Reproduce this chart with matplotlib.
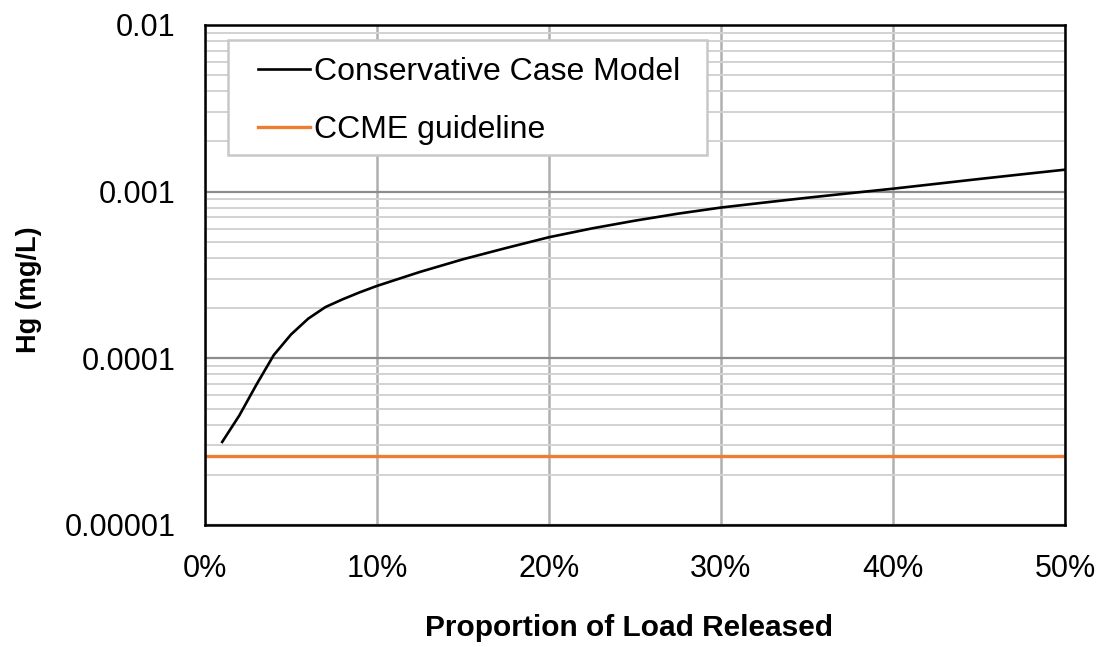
import matplotlib
matplotlib.use("Agg")
import matplotlib.pyplot as plt
from matplotlib.ticker import FixedLocator, LogLocator, NullFormatter
from matplotlib.patches import Rectangle
import numpy as np

plt.rcParams['font.family'] = ['Liberation Sans', 'DejaVu Sans']

# Data
proportion = [0.01, 0.02, 0.03, 0.04, 0.05, 0.06, 0.07, 0.08, 0.09, 0.10,
              0.125, 0.15, 0.175, 0.20, 0.225, 0.25, 0.275, 0.30, 0.325, 0.35,
              0.375, 0.40, 0.425, 0.45, 0.475, 0.50]
hg_model = [3.15e-5, 4.55e-5, 6.98e-5, 1.047e-4, 1.39e-4, 1.73e-4, 2.03e-4, 2.26e-4,
            2.49e-4, 2.72e-4, 3.30e-4, 3.93e-4, 4.59e-4, 5.33e-4, 6.02e-4, 6.70e-4,
            7.38e-4, 8.03e-4, 8.60e-4, 9.19e-4, 9.79e-4, 1.042e-3, 1.114e-3,
            1.191e-3, 1.271e-3, 1.355e-3]
ccme_x = [0.0, 0.5]
ccme_value = [2.6e-5, 2.6e-5]

x_ticks = [0.0, 0.1, 0.2, 0.3, 0.4, 0.5]
x_ticklabels = ['0%', '10%', '20%', '30%', '40%', '50%']
y_ticks = [1e-5, 1e-4, 1e-3, 1e-2]
y_ticklabels = ['0.00001', '0.0001', '0.001', '0.01']

fig = plt.figure(figsize=(11, 6.47), dpi=100)
ax = fig.add_axes([205/1100, 1 - 525/647, 860/1100, 500/647])

ax.set_yscale('log')
ax.set_xlim(0, 0.5)
ax.set_ylim(1e-5, 1e-2)

# grid
ax.yaxis.set_minor_locator(LogLocator(base=10, subs=np.arange(2, 10)))
ax.yaxis.set_minor_formatter(NullFormatter())
ax.grid(which='minor', axis='y', color='#d2d2d2', linewidth=1.4, zorder=0)
ax.grid(which='major', axis='y', color='#8c8c8c', linewidth=1.6, zorder=0)
ax.grid(which='major', axis='x', color='#b0b0b0', linewidth=1.8, zorder=0)

ax.plot(proportion, hg_model, color='black', linewidth=1.9, label='Conservative Case Model',
        zorder=3, solid_joinstyle='round')
ax.plot(ccme_x, ccme_value, color='#ED7D31', linewidth=2.4, label='CCME guideline', zorder=3)

ax.xaxis.set_major_locator(FixedLocator(x_ticks))
ax.set_xticklabels(x_ticklabels)
ax.yaxis.set_major_locator(FixedLocator(y_ticks))
ax.set_yticklabels(y_ticklabels)
ax.tick_params(axis='both', which='both', length=0, labelsize=22)
ax.tick_params(axis='y', pad=21)
ax.tick_params(axis='x', pad=21)

for s in ax.spines.values():
    s.set_color('black')
    s.set_linewidth(1.8)
    s.set_zorder(4)

ax.set_xlabel('Proportion of Load Released', fontsize=21.5, fontweight='bold')
ax.xaxis.set_label_coords(0.493, -0.177)
ax.set_ylabel('Hg (mg/L)', fontsize=19.5, fontweight='bold')
ax.yaxis.set_label_coords(-0.19, 0.47)

# legend box
ax.add_patch(Rectangle((0.0267, 0.74), 0.557, 0.23, transform=ax.transAxes,
                       facecolor='white', edgecolor='#c8c8c8', linewidth=1.8, zorder=5))
leg = ax.legend(loc='upper left', bbox_to_anchor=(0.0465, 0.961), fontsize=23,
                frameon=False, handlelength=1.62, handletextpad=0.15, borderpad=0.4,
                labelspacing=0.86, borderaxespad=0)
leg.set_zorder(6)

fig.savefig('out.png', dpi=100)
